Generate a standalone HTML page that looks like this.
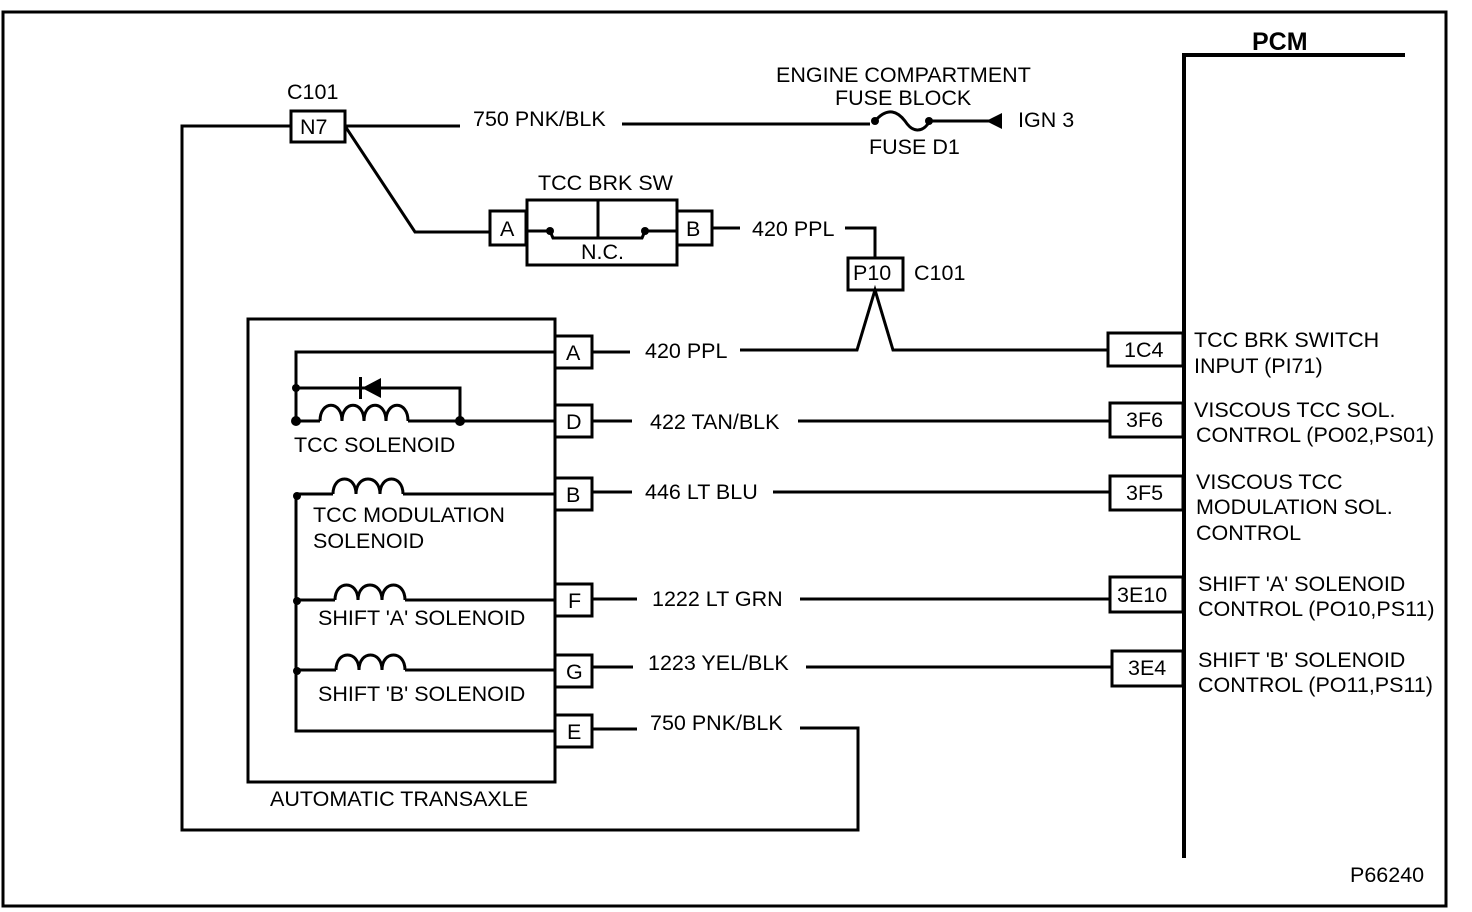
<!DOCTYPE html>
<html><head><meta charset="utf-8"><style>html,body{margin:0;padding:0;background:#fff}svg{display:block}text{font-family:"Liberation Sans",sans-serif;font-size:21.5px;fill:#000}</style></head>
<body>
<svg width="1472" height="912" viewBox="0 0 1472 912" xmlns="http://www.w3.org/2000/svg">
<g fill="none" stroke="#000" stroke-width="3">
<rect x="3" y="12" width="1443" height="894"/>
<polyline points="1405,55 1184,55 1184,858" stroke-width="4"/>
<rect x="248" y="319" width="307" height="463"/>
<rect x="555" y="336" width="37" height="32"/>
<rect x="555" y="405" width="37" height="32"/>
<rect x="555" y="478" width="37" height="32"/>
<rect x="555" y="584" width="37" height="32"/>
<rect x="555" y="655" width="37" height="32"/>
<rect x="555" y="715" width="37" height="32"/>
<rect x="1108" y="333" width="75" height="33"/>
<rect x="1110" y="403" width="73" height="34"/>
<rect x="1110" y="476" width="73" height="34"/>
<rect x="1110" y="577" width="73" height="35"/>
<rect x="1112" y="651" width="71" height="35"/>
<rect x="291" y="111" width="54" height="31"/>
<rect x="490" y="211" width="36" height="34"/>
<rect x="527" y="200" width="150" height="65"/>
<rect x="677" y="211" width="35" height="34"/>
<line x1="598" y1="200" x2="598" y2="237"/>
<polyline points="526,231 550,231 553,238 642,238 645,231 677,231"/>
<rect x="848" y="258" width="55" height="32"/>
<polyline points="592,352 630,352"/>
<polyline points="740,350 857,350 875,290 893,350 1108,350"/>
<polyline points="712,228 740,228"/>
<polyline points="845,228 875,228 875,258"/>
<polyline points="592,421 632,421"/><line x1="798" y1="421" x2="1110" y2="421"/>
<polyline points="592,492 632,492"/><line x1="773" y1="492" x2="1110" y2="492"/>
<polyline points="592,599 637,599"/><line x1="800" y1="599" x2="1110" y2="599"/>
<polyline points="592,667 633,667"/><line x1="806" y1="667" x2="1112" y2="667"/>
<polyline points="592,729 637,729"/>
<polyline points="800,728 858,728 858,830 182,830 182,126 291,126"/>
<polyline points="345,126 460,126"/>
<polyline points="622,124 870,124"/>
<polyline points="930,121 990,121"/>
<polyline points="345,126 415,232 490,232"/>
<path d="M875 121 C 888 106, 898 112, 905 121 C 912 132, 922 134, 930 121"/>
<polyline points="555,352 296,352 296,421 320,421"/>
<polyline points="296,388 460,388 460,421"/>
<polyline points="408,421 555,421"/>
<path d="M320 421 C320 400, 342 400, 342 421 C342 400, 364 400, 364 421 C364 400, 386 400, 386 421 C386 400, 408 400, 408 421"/>
<polyline points="296,494 296,731 555,731"/>
<polyline points="296,494 333,494"/><polyline points="403,494 555,494"/>
<path d="M333 494 C333 474, 356 474, 356 494 C356 474, 380 474, 380 494 C380 474, 403 474, 403 494"/>
<polyline points="296,600 335,600"/><polyline points="405,600 555,600"/>
<path d="M335 600 C335 580, 358 580, 358 600 C358 580, 382 580, 382 600 C382 580, 405 580, 405 600"/>
<polyline points="296,670 336,670"/><polyline points="405,670 555,670"/>
<path d="M336 670 C336 650, 359 650, 359 670 C359 650, 382 650, 382 670 C382 650, 405 650, 405 670"/>
</g>
<g fill="#000">
<polygon points="362,388 381,378 381,398"/>
<rect x="359" y="377" width="3" height="22"/>
<circle cx="296" cy="388" r="4"/><circle cx="296" cy="421" r="5"/><circle cx="460" cy="421" r="5"/>
<circle cx="297" cy="496" r="4"/><circle cx="297" cy="601" r="4"/><circle cx="297" cy="671" r="4"/>
<circle cx="875" cy="121" r="4"/><circle cx="929" cy="121" r="4"/>
<circle cx="550" cy="231" r="4"/><circle cx="645" cy="231" r="4"/>
<polygon points="986,121 1002,113 1002,129"/>
</g>
<text x="1252" y="50" font-weight="bold" style="font-size:25px">PCM</text>
<text x="287" y="99">C101</text>
<text x="300" y="134">N7</text>
<text x="473" y="126">750 PNK/BLK</text>
<text x="776" y="82">ENGINE COMPARTMENT</text>
<text x="835" y="105">FUSE BLOCK</text>
<text x="1018" y="127">IGN 3</text>
<text x="869" y="154">FUSE D1</text>
<text x="538" y="190">TCC BRK SW</text>
<text x="500" y="236">A</text>
<text x="686" y="236">B</text>
<text x="581" y="259">N.C.</text>
<text x="752" y="236">420 PPL</text>
<text x="853" y="280">P10</text>
<text x="914" y="280">C101</text>
<text x="566" y="360">A</text>
<text x="566" y="429">D</text>
<text x="566" y="502">B</text>
<text x="568" y="608">F</text>
<text x="566" y="679">G</text>
<text x="567" y="739">E</text>
<text x="645" y="358">420 PPL</text>
<text x="650" y="429">422 TAN/BLK</text>
<text x="645" y="499">446 LT BLU</text>
<text x="652" y="606">1222 LT GRN</text>
<text x="648" y="670">1223 YEL/BLK</text>
<text x="650" y="730">750 PNK/BLK</text>
<text x="294" y="452">TCC SOLENOID</text>
<text x="313" y="522">TCC MODULATION</text>
<text x="313" y="548">SOLENOID</text>
<text x="318" y="625">SHIFT 'A' SOLENOID</text>
<text x="318" y="701">SHIFT 'B' SOLENOID</text>
<text x="270" y="806">AUTOMATIC TRANSAXLE</text>
<text x="1124" y="357">1C4</text>
<text x="1126" y="427">3F6</text>
<text x="1126" y="500">3F5</text>
<text x="1117" y="602">3E10</text>
<text x="1128" y="675">3E4</text>
<text x="1194" y="347">TCC BRK SWITCH</text>
<text x="1194" y="373">INPUT (PI71)</text>
<text x="1194" y="417">VISCOUS TCC SOL.</text>
<text x="1196" y="442">CONTROL (PO02,PS01)</text>
<text x="1196" y="489">VISCOUS TCC</text>
<text x="1196" y="514">MODULATION SOL.</text>
<text x="1196" y="540">CONTROL</text>
<text x="1198" y="591">SHIFT 'A' SOLENOID</text>
<text x="1198" y="616">CONTROL (PO10,PS11)</text>
<text x="1198" y="667">SHIFT 'B' SOLENOID</text>
<text x="1198" y="692">CONTROL (PO11,PS11)</text>
<text x="1350" y="882">P66240</text>
</svg>
</body></html>
